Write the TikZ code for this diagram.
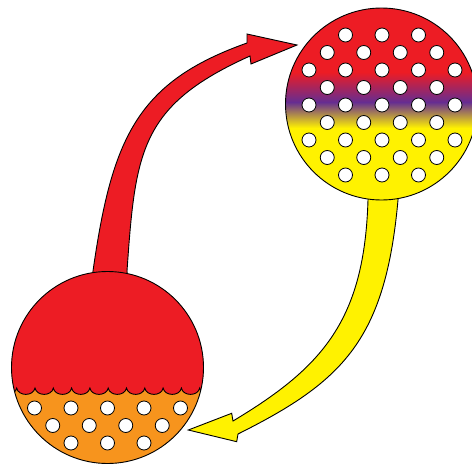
\documentclass[tikz,border=0pt]{standalone}
\usepackage{xcolor}
\usepackage{tikz}
\usetikzlibrary{calc}
\definecolor{hotred}{HTML}{ED1C24}
\definecolor{sunorange}{HTML}{F7941D}
\definecolor{sunyellow}{HTML}{FFF200}
\definecolor{bandpurple}{HTML}{662D91}
\pgfdeclareverticalshading{bandgrad}{100bp}{color(0bp)=(sunyellow);
  color(43.75bp)=(sunyellow); color(50.5bp)=(bandpurple);
  color(58.3bp)=(hotred); color(100bp)=(hotred)}
\tikzset{outline/.style={draw=black,line width=0.9pt,line join=miter},
  hole/.style={draw=black,fill=white,line width=0.8pt}}

\begin{document}
\begin{tikzpicture}[x=1pt,y=-1pt]
 \useasboundingbox (0,0) rectangle (472,466);
 \coordinate (lo) at (107.5,367.5);
 \coordinate (hi) at (381.5,104);
 \filldraw[outline,fill=hotred] (92.5,278) -- (93,271)
   .. controls (112,138) and (137,82) .. (247,43) -- (247,34) -- (297,45)
   -- (251,64) -- (250,56) .. controls (140,105.5) and (135.4,151) .. (127,271)
   -- (127.5,278) -- cycle;
 \filldraw[outline,fill=sunyellow] (368,192) -- (368,200)
   .. controls (364.4,320) and (323,367) .. (233,421) -- (231.7,413.3)
   -- (188.3,430) -- (236.7,441.7) -- (238,434)
   .. controls (343,381.5) and (385.4,340) .. (398,200) -- (398.5,192) -- cycle;
 \begin{scope}
  \clip (lo) circle (96);
  \fill[sunorange] (lo) circle (96);
  \filldraw[outline,fill=hotred] (-1.6,388)
    \foreach \k in {1,...,13} { .. controls +(1.5,8.5) and +(-1.5,8.5) .. ++(18.3,0) }
    -- (240,250) -- (-1.6,250) -- cycle;
 \end{scope}
 \draw[outline] (lo) circle (96);
 \foreach \r/\n in {0/5,1/4,2/3}
  \foreach \i in {1,...,\n}
   \draw[hole] ({107.5+36.5*(\i-(\n+1)/2)},{408+17.5*\r}) circle (7);
 \shade[shading=bandgrad] (hi) circle (96);
 \draw[outline] (hi) circle (96);
 \foreach \r/\n in {0/3,1/4,2/5,3/4,4/5,5/4,6/5,7/4,8/3}
  \foreach \i in {1,...,\n}
   \draw[hole] ({382+36.5*(\i-(\n+1)/2)},{35+17.5*\r}) circle (7);
\end{tikzpicture}
\end{document}
